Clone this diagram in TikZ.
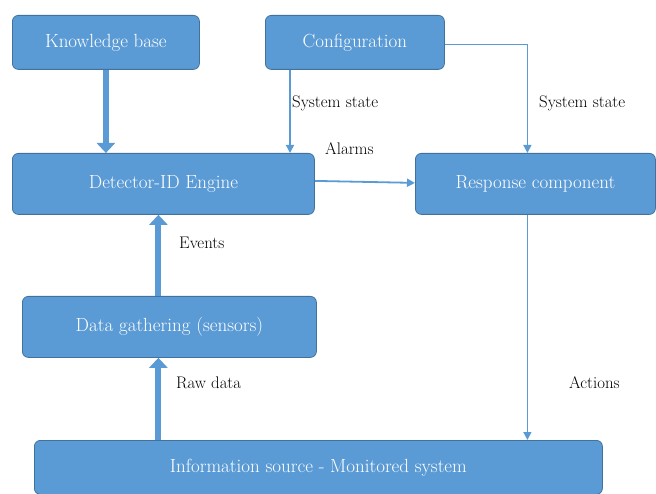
\documentclass[tikz,border=0pt]{standalone}
\usetikzlibrary{arrows.meta,calc}
\definecolor{boxfill}{HTML}{5B9BD5}
\definecolor{boxline}{HTML}{41719C}
\tikzset{
  box/.style={draw=boxline, line width=0.8pt, fill=boxfill, rounded corners=6pt,
    text=white, anchor=north west, inner sep=0pt,
    font=\rmfamily\fontsize{19pt}{23pt}\selectfont},
  lbl/.style={anchor=west, inner sep=0pt, text=black,
    font=\rmfamily\fontsize{16.8pt}{20pt}\selectfont},
  fatarrow/.style={draw=boxfill, line width=6pt,
    -{Triangle[width=18pt,length=10pt]}},
  thinarrow/.style={draw=boxfill, line width=1.5pt,
    -{Triangle[width=8pt,length=8pt]}}
}
\begin{document}
\begin{tikzpicture}[x=1pt,y=1pt]
\useasboundingbox (0,0) rectangle (656,-494);
\node[box, minimum width=187pt, minimum height=54pt] (kb) at (12,-15) {Knowledge base};
\node[box, minimum width=179pt, minimum height=54pt] (cfg) at (265,-15) {Configuration};
\node[box, minimum width=302pt, minimum height=61pt] (det) at (12,-153) {Detector-ID Engine};
\node[box, minimum width=240pt, minimum height=61pt] (resp) at (415,-153) {Response component};
\node[box, minimum width=294pt, minimum height=61pt] (dg) at (22,-296) {Data gathering (sensors)};
\node[box, minimum width=568pt, minimum height=54pt] (info) at (34,-440) {Information source - Monitored system};

\coordinate (c1) at ($(cfg.south west)+(25,0)$);
\coordinate (r1) at ($(resp.north)+(-8,0)$);
\coordinate (d1) at ($(dg.north)+(-11,0)$);

\draw[fatarrow] (kb.south) -- (kb.south |- det.north);
\draw[thinarrow] (c1) -- (c1 |- det.north);
\draw[thinarrow] ($(cfg.east)+(0,-2)$) -| (r1);
\draw[thinarrow, line width=1.8pt] ($(det.east)+(0,3)$) -- ($(resp.west)+(0,1)$);
\draw[fatarrow] (d1) -- (d1 |- det.south);
\draw[fatarrow] (d1 |- info.north) -- (d1 |- dg.south);
\draw[thinarrow] (r1 |- resp.south) -- (r1 |- info.north);

\node[lbl] (l1) at (292,-103) {System state};
\node[lbl] (l2) at (539,-103) {System state};
\node[lbl] (l3) at (325,-149) {Alarms};
\node[lbl] (l4) at (179,-243) {Events};
\node[lbl] (l5) at (176,-383) {Raw data};
\node[lbl] (l6) at (569,-383) {Actions};
\end{tikzpicture}
\end{document}
